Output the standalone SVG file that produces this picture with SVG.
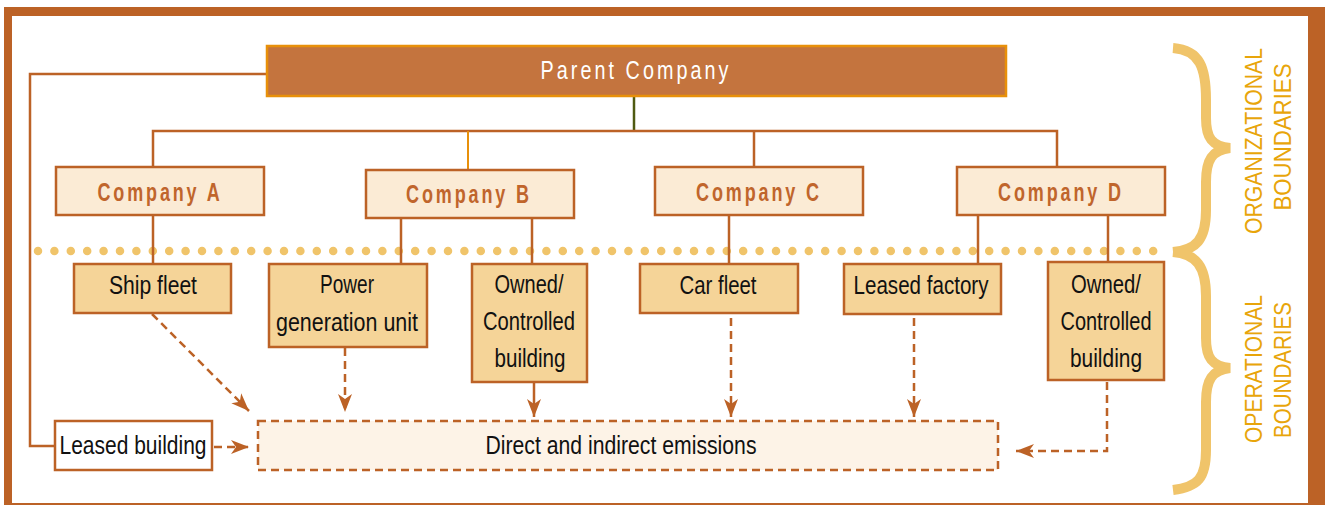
<svg xmlns="http://www.w3.org/2000/svg" width="1325" height="505" viewBox="0 0 1325 505">
  <style>
    .co rect { fill: #FBEBD5; stroke: #BC6226; stroke-width: 2.5; }
    .co text { font-family: "Liberation Sans", Arial, sans-serif; font-size: 25px; font-weight: bold; fill: #C0652C; text-anchor: middle; letter-spacing: 4px; }
    .op rect { fill: #F5D498; stroke: #BC6226; stroke-width: 2.5; }
    .lbl { font-family: "Liberation Sans", Arial, sans-serif; font-size: 25px; fill: #111; text-anchor: middle; }
    .ln { fill: none; stroke: #BC6226; stroke-width: 2.5; }
    .dash { fill: none; stroke: #BC6226; stroke-width: 2.5; stroke-dasharray: 8 5; }
    .bound { font-family: "Liberation Sans", Arial, sans-serif; font-size: 23px; fill: #E8A50A; text-anchor: middle; }
  </style>
  <defs>
    <marker id="ah" markerUnits="userSpaceOnUse" markerWidth="20" markerHeight="20" viewBox="0 0 20 20" refX="18" refY="10" orient="auto">
      <path d="M0,3 L18,10 L0,17 L5,10 Z" fill="#BC6226"/>
    </marker>
  </defs>

  <!-- frame -->
  <rect x="4" y="7" width="1321" height="498" fill="#BC6226"/>
  <rect x="12" y="16" width="1296" height="487" fill="#FFFFFF"/>

  <!-- dotted boundary line -->
  <line x1="38" y1="251" x2="1168" y2="251" stroke="#F0C46A" stroke-width="8.5" stroke-linecap="round" stroke-dasharray="0 16.4"/>

  <!-- braces -->
  <g fill="none" stroke="#F0C46A" stroke-width="10">
    <path d="M1173,48 C1200,50 1206,68 1206,100 L1206,118 C1206,138 1212,146 1230,148 C1212,150 1206,160 1206,182 L1206,210 C1206,240 1196,250 1173,252"/>
    <path d="M1173,252 C1196,254 1206,266 1206,296 L1206,338 C1206,358 1212,366 1230,368 C1212,370 1206,380 1206,402 L1206,450 C1206,478 1198,487 1173,490"/>
  </g>
  <text class="bound" transform="translate(1262,141) rotate(-90)" textLength="186" lengthAdjust="spacingAndGlyphs">ORGANIZATIONAL</text>
  <text class="bound" transform="translate(1291,137) rotate(-90)" textLength="147" lengthAdjust="spacingAndGlyphs">BOUNDARIES</text>
  <text class="bound" transform="translate(1262,369) rotate(-90)" textLength="148" lengthAdjust="spacingAndGlyphs">OPERATIONAL</text>
  <text class="bound" transform="translate(1291,370) rotate(-90)" textLength="136" lengthAdjust="spacingAndGlyphs">BOUNDARIES</text>

  <!-- connectors -->
  <g id="connectors">
    <path class="ln" d="M267,74 H30 V446 H55"/>
    <line x1="634" y1="96" x2="634" y2="131" stroke="#4F5A12" stroke-width="2.5"/>
    <path class="ln" d="M153,167 V131 H1057 V167"/>
    <line x1="754" y1="131" x2="754" y2="167" class="ln"/>
    <line x1="468" y1="131" x2="468" y2="170" stroke="#E8900A" stroke-width="2"/>
    <line x1="153" y1="215" x2="153" y2="264" class="ln"/>
    <line x1="401" y1="218" x2="401" y2="264" class="ln"/>
    <line x1="532" y1="218" x2="532" y2="264" class="ln"/>
    <line x1="729" y1="215" x2="729" y2="264" class="ln"/>
    <line x1="978" y1="215" x2="978" y2="264" class="ln"/>
    <line x1="1108" y1="215" x2="1108" y2="262" class="ln"/>
    <!-- emission arrows -->
    <line class="dash" x1="152" y1="314" x2="249" y2="411" marker-end="url(#ah)"/>
    <line class="dash" x1="345" y1="348" x2="345" y2="412" marker-end="url(#ah)"/>
    <line class="ln" x1="534" y1="383" x2="534" y2="417" marker-end="url(#ah)"/>
    <line class="dash" x1="731" y1="318" x2="731" y2="417" marker-end="url(#ah)"/>
    <line class="dash" x1="914" y1="318" x2="914" y2="417" marker-end="url(#ah)"/>
    <path class="dash" d="M1107,382 V451 H1016" marker-end="url(#ah)"/>
    <line class="dash" x1="214" y1="447" x2="249" y2="447" marker-end="url(#ah)"/>
  </g>

  <!-- parent -->
  <g id="parent">
    <rect x="267" y="46" width="739" height="50" fill="#C4743E" stroke="#E8900A" stroke-width="2.5"/>
    <text x="636" y="79" font-family="Liberation Sans, Arial, sans-serif" font-size="26" fill="#FFFFFF" text-anchor="middle" letter-spacing="4" textLength="191" lengthAdjust="spacingAndGlyphs">Parent Company</text>
  </g>

  <!-- companies -->
  <g id="companyA" class="co"><rect x="56" y="167" width="208" height="48"/><text x="160" y="201" textLength="125" lengthAdjust="spacingAndGlyphs">Company A</text></g>
  <g id="companyB" class="co"><rect x="366" y="170" width="208" height="48"/><text x="469" y="203" textLength="126" lengthAdjust="spacingAndGlyphs">Company B</text></g>
  <g id="companyC" class="co"><rect x="655" y="167" width="208" height="48"/><text x="759" y="201" textLength="126" lengthAdjust="spacingAndGlyphs">Company C</text></g>
  <g id="companyD" class="co"><rect x="957" y="167" width="208" height="48"/><text x="1061" y="201" textLength="126" lengthAdjust="spacingAndGlyphs">Company D</text></g>

  <!-- operations -->
  <g id="shipFleet" class="op"><rect x="74" y="264" width="157" height="49"/><text class="lbl" x="153" y="294" textLength="88" lengthAdjust="spacingAndGlyphs">Ship fleet</text></g>
  <g id="powerGen" class="op"><rect x="269" y="264" width="158" height="83"/><text class="lbl" x="347" y="293" textLength="54" lengthAdjust="spacingAndGlyphs">Power</text><text class="lbl" x="347" y="331" textLength="142" lengthAdjust="spacingAndGlyphs">generation unit</text></g>
  <g id="ownedB" class="op"><rect x="472" y="264" width="115" height="118"/><text class="lbl" x="529" y="293" textLength="69" lengthAdjust="spacingAndGlyphs">Owned/</text><text class="lbl" x="529" y="330" textLength="92" lengthAdjust="spacingAndGlyphs">Controlled</text><text class="lbl" x="530" y="367" textLength="71" lengthAdjust="spacingAndGlyphs">building</text></g>
  <g id="carFleet" class="op"><rect x="640" y="264" width="158" height="49"/><text class="lbl" x="718" y="294" textLength="77" lengthAdjust="spacingAndGlyphs">Car fleet</text></g>
  <g id="leasedFactory" class="op"><rect x="844" y="264" width="157" height="50"/><text class="lbl" x="921" y="294" textLength="135" lengthAdjust="spacingAndGlyphs">Leased factory</text></g>
  <g id="ownedD" class="op"><rect x="1048" y="262" width="116" height="118"/><text class="lbl" x="1106" y="293" textLength="70" lengthAdjust="spacingAndGlyphs">Owned/</text><text class="lbl" x="1106" y="330" textLength="91" lengthAdjust="spacingAndGlyphs">Controlled</text><text class="lbl" x="1106" y="367" textLength="72" lengthAdjust="spacingAndGlyphs">building</text></g>

  <g id="leasedBuilding"><rect x="55" y="421" width="157" height="49" fill="#FFFFFF" stroke="#BC6226" stroke-width="2.5"/><text class="lbl" x="133" y="454" textLength="147" lengthAdjust="spacingAndGlyphs">Leased building</text></g>
  <g id="emissions"><rect x="258" y="421" width="740" height="49" fill="#FDF3E7" stroke="#BC6226" stroke-width="2.5" stroke-dasharray="8 5"/><text class="lbl" x="621" y="454" textLength="271" lengthAdjust="spacingAndGlyphs">Direct and indirect emissions</text></g>
</svg>
